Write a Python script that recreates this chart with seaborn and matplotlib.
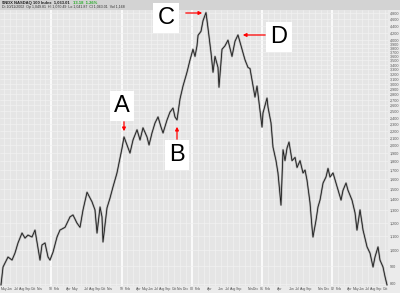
import numpy as np
import pandas as pd
import matplotlib
matplotlib.use("Agg")
import matplotlib.pyplot as plt
import seaborn as sns
from matplotlib.ticker import FixedLocator, FixedFormatter, NullFormatter
from matplotlib.patches import Rectangle, FancyArrowPatch

# ---- data (decimal year, NASDAQ-100 level) ----
years = [1997.285, 1997.314, 1997.342, 1997.385, 1997.442, 1997.484, 1997.527, 1997.584,
         1997.627, 1997.669, 1997.726, 1997.769, 1997.812, 1997.840, 1997.868, 1997.911,
         1997.954, 1997.982, 1998.025, 1998.082, 1998.124, 1998.196, 1998.267, 1998.309,
         1998.366, 1998.409, 1998.452, 1998.509, 1998.580, 1998.622, 1998.651, 1998.694,
         1998.722, 1998.736, 1998.793, 1998.836, 1998.878, 1998.935, 1998.978, 1999.007,
         1999.035, 1999.078, 1999.120, 1999.163, 1999.220, 1999.263, 1999.305, 1999.362,
         1999.391, 1999.433, 1999.476, 1999.519, 1999.561, 1999.590, 1999.647, 1999.689,
         1999.732, 1999.760, 1999.789, 1999.831, 1999.874, 1999.931, 1999.974, 2000.016,
         2000.045, 2000.073, 2000.088, 2000.130, 2000.159, 2000.201, 2000.230, 2000.272,
         2000.301, 2000.329, 2000.372, 2000.386, 2000.429, 2000.471, 2000.514, 2000.571,
         2000.614, 2000.656, 2000.713, 2000.756, 2000.799, 2000.827, 2000.870, 2000.898,
         2000.927, 2000.969, 2000.998, 2001.012, 2001.069, 2001.083, 2001.126, 2001.154,
         2001.197, 2001.225, 2001.268, 2001.297, 2001.325, 2001.354, 2001.382, 2001.425,
         2001.468, 2001.496, 2001.539, 2001.581, 2001.610, 2001.638, 2001.681, 2001.709,
         2001.723, 2001.766, 2001.794, 2001.823, 2001.866, 2001.908, 2001.937, 2001.965,
         2002.008, 2002.050, 2002.079, 2002.122, 2002.150, 2002.193, 2002.221, 2002.278,
         2002.321, 2002.349, 2002.392, 2002.435, 2002.492, 2002.534, 2002.577, 2002.605,
         2002.648, 2002.676, 2002.719, 2002.748, 2002.776]
prices = [795, 895, 919, 956, 937, 981, 1049, 1120,
          1083, 1105, 1091, 1142, 1015, 937, 1035, 1049,
          956, 937, 987, 1091, 1142, 1163, 1246, 1262,
          1196, 1163, 1305, 1466, 1376, 1305, 1120, 1330,
          1246, 1056, 1322, 1411, 1518, 1665, 1838, 1963,
          2112, 2003, 1899, 2070, 2214, 2070, 2243, 2112,
          2003, 2168, 2316, 2410, 2255, 2168, 2363, 2489,
          2555, 2410, 2363, 2711, 2955, 3238, 3512, 3767,
          3594, 3853, 4130, 4241, 4550, 4800, 4325, 3690,
          3238, 3594, 3340, 2933, 3767, 3853, 4001, 3594,
          3974, 4141, 3767, 3512, 3340, 3318, 2955, 2748,
          2955, 2522, 2255, 2474, 2730, 2572, 2316, 1976,
          1806, 1665, 1347, 1940, 1806, 1963, 2042, 1806,
          1845, 1726, 1806, 1665, 1697, 1588, 1366, 1163,
          1091, 1218, 1330, 1392, 1558, 1621, 1716, 1621,
          1665, 1558, 1485, 1392, 1485, 1558, 1485, 1392,
          1280, 1142, 1305, 1142, 1022, 981, 895, 956,
          1022, 937, 895, 839, 795]

price_labels = [800, 900, 1000, 1100, 1200, 1300, 1400, 1500, 1600, 1700, 1800, 1900,
                2000, 2100, 2200, 2300, 2400, 2500, 2600, 2700, 2800, 2900, 3000, 3100,
                3200, 3300, 3400, 3500, 3600, 3700, 3800, 3900, 4000, 4200, 4400, 4600, 4800]

month_ticks = ["1997-05", "1997-06", "1997-07", "1997-08", "1997-09", "1997-10", "1997-11",
               "1998-01", "1998-02", "1998-04", "1998-05", "1998-07", "1998-08", "1998-09",
               "1998-10", "1998-11",
               "1999-01", "1999-02", "1999-04", "1999-05", "1999-06", "1999-07", "1999-08",
               "1999-09", "1999-10", "1999-11", "1999-12",
               "2000-01", "2000-02", "2000-04", "2000-06", "2000-07", "2000-08", "2000-09",
               "2000-11", "2000-12",
               "2001-01", "2001-02", "2001-04", "2001-06", "2001-07", "2001-08", "2001-09",
               "2001-11", "2001-12",
               "2002-01", "2002-02", "2002-04", "2002-05", "2002-06", "2002-07", "2002-08",
               "2002-09", "2002-10"]
month_labels = ["May", "Jun", "Jul", "Aug", "Sep", "Oct", "Nov",
                "98", "Feb", "Apr", "May", "Jul", "Aug", "Sep", "Oct", "Nov",
                "99", "Feb", "Apr", "May", "Jun", "Jul", "Aug", "Sep", "Oct", "Nov", "Dec",
                "00", "Feb", "Apr", "Jun", "Jul", "Aug", "Sep", "Nov", "Dec",
                "01", "Feb", "Apr", "Jun", "Jul", "Aug", "Sep", "Nov", "Dec",
                "02", "Feb", "Apr", "May", "Jun", "Jul", "Aug", "Sep", "Oct"]

title_text = "$NDX NASDAQ 100 Index  1,063.01"
change_text = "13.18  1.26%"
info_text = "Dt 10/11/2002  Op 1,049.81  Hi 1,070.49  Lo 1,041.87  Cl 1,063.01  Vol 1,168"

letters = ["A", "B", "C", "D"]

# ---- figure ----
sns.set_theme(style="white")
plt.rcParams["font.family"] = ["Liberation Sans", "DejaVu Sans"]

W, H = 400, 293
fig = plt.figure(figsize=(W / 100, H / 100), dpi=100, facecolor="#ebebeb")


def P(x, y):
    return (x / W, 1 - y / H)


ax = fig.add_axes([0, 1 - 286 / H, 388 / W, (286 - 10) / H])
ax.set_facecolor("#e5e5e5")

df = pd.DataFrame({"year": years, "price": prices})
sns.lineplot(data=df, x="year", y="price", ax=ax, color="#a8a8a8", lw=1.5,
             estimator=None, sort=False, zorder=3)
sns.lineplot(data=df, x="year", y="price", ax=ax, color="#111111", lw=0.55,
             estimator=None, sort=False, zorder=4)

ax.set_yscale("log")
ax.set_ylim(789.5, 4882)
ax.set_xlim(1997.271, 2002.790)

# month grid
all_months = [y + m / 12 for y in range(1997, 2003) for m in range(12)]
for mpos in all_months:
    if 1997.271 < mpos < 2002.79:
        is_year = abs(mpos - round(mpos)) < 1e-9
        ax.axvline(mpos, color="white" if is_year else "#f2f2f2",
                   lw=1.2 if is_year else 0.45, zorder=1)
for g in price_labels:
    ax.axhline(g, color="#f2f2f2", lw=0.45, zorder=1)

mpos_ticks = [int(s[:4]) + (int(s[5:]) - 1) / 12 for s in month_ticks]
ax.xaxis.set_major_locator(FixedLocator(mpos_ticks))
ax.xaxis.set_major_formatter(FixedFormatter(month_labels))
ax.yaxis.tick_right()
ax.yaxis.set_major_locator(FixedLocator(price_labels))
ax.yaxis.set_major_formatter(FixedFormatter([f"{v:,}" for v in price_labels]))
ax.yaxis.set_minor_formatter(NullFormatter())
ax.yaxis.set_minor_locator(FixedLocator([]))
ax.tick_params(axis="x", length=0, labelsize=2.5, colors="#555555", pad=1.0)
ax.tick_params(axis="y", length=0, labelsize=2.7, colors="#555555", pad=1.5)
ax.set_xlabel("")
ax.set_ylabel("")
ax.grid(False)
for s in ax.spines.values():
    s.set_visible(False)

# header band
fig.patches.append(Rectangle((0, 1 - 10 / H), 1, 10 / H, transform=fig.transFigure,
                             fc="#d3d3d3", ec="none", zorder=0))
t1 = fig.text(2 / W, 1 - 3.2 / H, title_text, fontsize=3.0, fontweight="bold",
              color="#222222", va="center", ha="left")
fig.canvas.draw()
bb = t1.get_window_extent()
fig.text(bb.x1 / W + 3 / W, 1 - 3.2 / H, change_text, fontsize=3.0, fontweight="bold",
         color="#22aa22", va="center", ha="left")
fig.text(2 / W, 1 - 7.3 / H, info_text, fontsize=2.6, color="#333333",
         va="center", ha="left")

# annotations
letter_pos = {"A": (122, 106), "B": (177, 155), "C": (166, 18), "D": (279, 37)}
for L in letters:
    fig.text(*P(*letter_pos[L]), L, fontsize=17, ha="center", va="center",
             color="black", zorder=10,
             bbox=dict(boxstyle="square,pad=0.18", fc="white", ec="none"))

arrows = [((124, 119), (124, 134)), ((177, 142), (177, 124)),
          ((183, 13), (205, 13)), ((268, 35), (240, 35))]
for start, end in arrows:
    fig.add_artist(FancyArrowPatch(
        P(*start), P(*end), transform=fig.transFigure, arrowstyle="-|>",
        mutation_scale=5, color="red", lw=0.9, zorder=11))

fig.savefig("out.png", dpi=100, facecolor=fig.get_facecolor())
